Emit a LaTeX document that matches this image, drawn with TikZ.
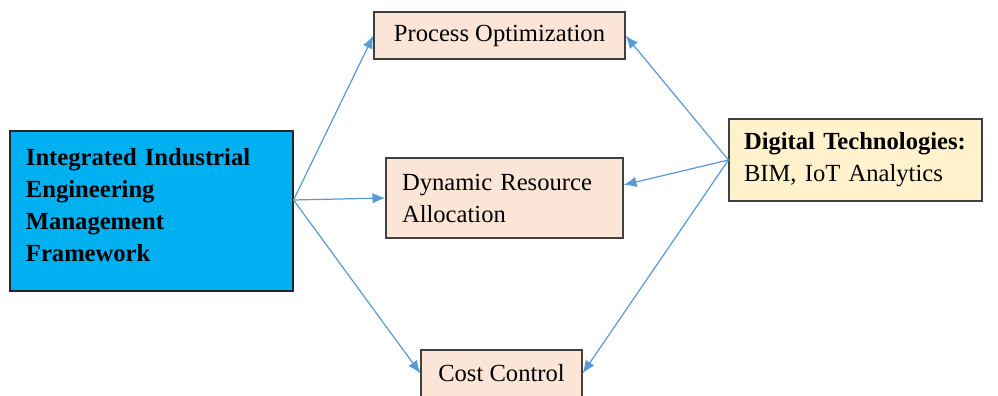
\documentclass[tikz,border=0pt]{standalone}
\usepackage{fontspec}
\setmainfont{Liberation Serif}
\definecolor{frameblue}{RGB}{0,176,240}
\definecolor{boxpeach}{RGB}{251,229,214}
\definecolor{boxyellow}{RGB}{255,242,204}
\definecolor{arrowblue}{RGB}{91,155,213}
\usetikzlibrary{arrows.meta}
\tikzset{
  box/.style={draw=black!75, line width=0.6pt, fill=boxpeach, inner xsep=0.32cm, inner ysep=0pt, font=\fontsize{14}{18.2}\selectfont},
  link/.style={draw=arrowblue, line width=0.7pt, -{Latex[length=2.6mm,width=2.1mm]}}
}

\begin{document}
\begin{tikzpicture}
  \useasboundingbox (0,0) rectangle (19.96,-7.92);

  \node [box, fill=frameblue, draw=black!85, minimum width=5.66cm, minimum height=3.2cm, text width=5.02cm, align=left, font=\fontsize{14}{18.2}\bfseries\selectfont] (frame) at (3.03,-4.22) {Integrated Industrial\\Engineering\\Management\\Framework\\[-0.4cm]\mbox{}}; 

  \node [box, minimum width=5.02cm, minimum height=0.94cm] (proc) at (9.99,-0.71) {Process Optimization}; 
  \node [box, minimum width=4.74cm, minimum height=1.6cm, text width=4.1cm, align=left] (dyn) at (10.09,-3.96) {Dynamic Resource\\Allocation}; 
  \node [box, minimum width=3.22cm, minimum height=0.94cm] (cost) at (10.03,-7.47) {Cost Control}; 
  \node [box, fill=boxyellow, inner xsep=0.3cm, minimum width=5.06cm, minimum height=1.64cm, text width=4.46cm, align=left] (digi) at (17.11,-3.2) {\textbf{Digital Technologies:}\\BIM, IoT Analytics\\[0.12cm]}; 

  \coordinate (fsrc) at ([yshift=0.22cm]frame.east); 

  \draw [link] (fsrc) -- (proc.west); 
  \draw [link] (fsrc) -- (dyn.west); 
  \draw [link] (fsrc) -- (cost.west); 

  \draw [link] (digi.west) -- (proc.east); 
  \draw [link] (digi.west) -- ([yshift=0.26cm]dyn.east); 
  \draw [link] (digi.west) -- (cost.east); 
\end{tikzpicture}
\end{document}
